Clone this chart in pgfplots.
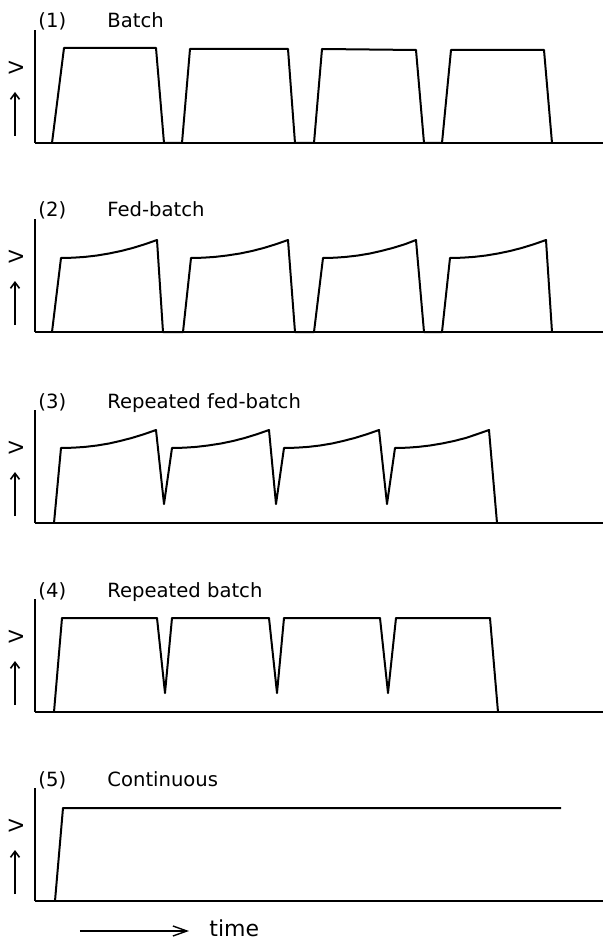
\documentclass[border=0pt]{standalone}
\usepackage{fontspec}
\setmainfont{DejaVu Sans}
\usepackage{pgfplots}
\pgfplotsset{compat=1.18}
\usetikzlibrary{arrows.meta}

% one panel = pixel units of the original drawing (1px = 0.5pt)
\pgfplotsset{
  panel/.style={
    x=0.5pt, y=0.5pt,
    xmin=35, xmax=603, ymin=0, ymax=113,
    axis x line=bottom, axis y line=left,
    axis line style={-, line width=1.1pt},
    xtick=\empty, ytick=\empty,
    clip=false, anchor=south west,
    cycle list={{black, mark=none}},
    every axis plot post/.append style={line width=1pt, line join=round},
  },
}
\newcommand{\tfont}{\fontsize{9.8}{12}\selectfont}
\newcommand{\panellabel}[2]{%
  \node[anchor=base west, font=\tfont, inner sep=0pt] at (axis cs:38,115) {#1};
  \node[anchor=base west, font=\tfont, inner sep=0pt] at (axis cs:107,115) {#2};
  \node[rotate=90, font=\tfont, inner sep=0pt] at (axis cs:16,75) {V};
  \draw[line width=0.8pt, -{Straight Barb[length=3pt,width=4.5pt]}] (axis cs:15,7) -- (axis cs:15,51);
}

\begin{document}
\begin{tikzpicture}
\useasboundingbox (0,0) rectangle (301.5pt,-470.5pt);

% (1) Batch
\begin{axis}[panel, at={(17.5pt,-71.5pt)}]
\addplot coordinates {
  (52,0) (64,95) (156,95) (164,0)
  (182,0) (190,94) (288,94) (295,0)
  (314,0) (322,94) (416,93) (424,0)
  (442,0) (451,93) (544,93) (552,0)
};
\panellabel{(1)}{Batch}
\end{axis}

% (2) Fed-batch
\begin{axis}[panel, at={(17.5pt,-166pt)}]
\addplot coordinates {
  (52,0) (61,74)
  (73,74.3) (85,75.1) (97,76.5) (109,78.5) (121,81) (133,84.1) (145,87.8) (157,92)
  (163,0) (183,0) (191,74)
  (203,74.3) (215,75.1) (227,76.5) (240,78.5) (252,81) (264,84.1) (276,87.8) (288,92)
  (295,0) (314,0) (323,74)
  (335,74.3) (346,75.1) (358,76.5) (370,78.5) (381,81) (393,84.1) (405,87.8) (416,92)
  (424,0) (442,0) (450,74)
  (462,74.3) (474,75.1) (486,76.5) (498,78.5) (510,81) (522,84.1) (534,87.8) (546,92)
  (552,0)
};
\panellabel{(2)}{Fed-batch}
\end{axis}

% (3) Repeated fed-batch
\begin{axis}[panel, at={(17.5pt,-261.5pt)}]
\addplot coordinates {
  (54,0) (61,75)
  (73,75.3) (85,76.1) (97,77.5) (109,79.5) (120,82) (132,85.1) (144,88.8) (156,93)
  (164,19) (172,75)
  (184,75.3) (196,76.1) (208,77.5) (221,79.5) (233,82) (245,85.1) (257,88.8) (269,93)
  (276,19) (284,75)
  (296,75.3) (308,76.1) (320,77.5) (332,79.5) (343,82) (355,85.1) (367,88.8) (379,93)
  (387,19) (395,75)
  (407,75.3) (418,76.1) (430,77.5) (442,79.5) (454,82) (466,85.1) (477,88.8) (489,93)
  (497,0)
};
\panellabel{(3)}{Repeated fed-batch}
\end{axis}

% (4) Repeated batch
\begin{axis}[panel, at={(17.5pt,-356pt)}]
\addplot coordinates {
  (54,0) (62,94) (157,94) (165,19) (172,94) (269,94) (277,19)
  (284,94) (380,94) (388,19) (396,94) (490,94) (498,0)
};
\panellabel{(4)}{Repeated batch}
\end{axis}

% (5) Continuous
\begin{axis}[panel, at={(17.5pt,-450.5pt)}]
\addplot coordinates {
  (55,0) (63,93) (561,93)
};
\panellabel{(5)}{Continuous}
\draw[line width=0.7pt, -{Straight Barb[length=7pt,width=5pt]}] (axis cs:80,-30) -- (axis cs:189,-30);
\node[anchor=base west, font=\fontsize{11}{13}\selectfont, inner sep=0pt] at (axis cs:209,-35) {time};
\end{axis}
\end{tikzpicture}
\end{document}
